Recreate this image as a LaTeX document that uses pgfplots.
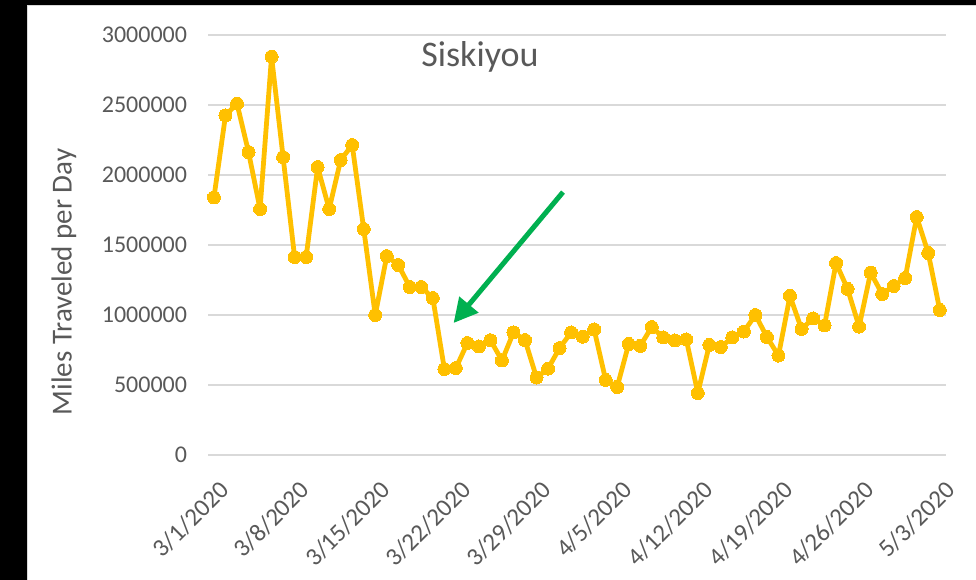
\documentclass[border=0pt]{standalone}
\usepackage{fontspec}
\setmainfont{Carlito}
\usepackage{pgfplots}
\pgfplotsset{compat=1.18}
\usetikzlibrary{arrows.meta}

\definecolor{gold}{RGB}{255,192,0}
\definecolor{txtgray}{RGB}{89,89,89}
\definecolor{gridgray}{RGB}{217,217,217}
\definecolor{arrowgreen}{RGB}{0,176,80}

\pgfplotstableread{
day miles
0 1840000
1 2425000
2 2510000
3 2164000
4 1757000
5 2845000
6 2128000
7 1414000
8 1414000
9 2057000
10 1757000
11 2107000
12 2214000
13 1614000
14 1000000
15 1421000
16 1357000
17 1200000
18 1200000
19 1121000
20 614000
21 621000
22 800000
23 775000
24 820000
25 675000
26 875000
27 821000
28 553000
29 617000
30 764000
31 875000
32 845000
33 897000
34 536000
35 486000
36 793000
37 779000
38 914000
39 840000
40 818000
41 825000
42 443000
43 786000
44 771000
45 840000
46 882000
47 1000000
48 843000
49 710000
50 1136000
51 900000
52 975000
53 925000
54 1371000
55 1186000
56 917000
57 1303000
58 1150000
59 1207000
60 1264000
61 1700000
62 1443000
63 1036000
}\siskiyou

\begin{document}
\begin{tikzpicture}
  \useasboundingbox (0bp,0bp) rectangle (976bp,580bp);
  % frame of the screenshot
  \fill[black] (0bp,0bp) rectangle (976bp,580bp);
  \fill[white] (27bp,-5bp) rectangle (985bp,575bp);
  \draw[gridgray, line width=1.5bp] (27.5bp,-5bp) -- (27.5bp,574.5bp) -- (985bp,574.5bp);

  \begin{axis}[
      at={(208.2bp,125bp)}, anchor=south west,
      width=737.3bp, height=420bp,
      scale only axis,
      xmin=-0.5, xmax=63.5,
      ymin=0, ymax=3000000,
      axis line style={draw=none},
      major tick length=0pt,
      ymajorgrids,
      major grid style={gridgray, line width=1.5bp},
      ytick={0,500000,...,3000000},
      scaled y ticks=false,
      /pgf/number format/fixed,
      /pgf/number format/set thousands separator={},
      /pgf/number format/assume math mode=true,
      xtick={0,7,...,63},
      xticklabels={3/1/2020,3/8/2020,3/15/2020,3/22/2020,3/29/2020,4/5/2020,4/12/2020,4/19/2020,4/26/2020,5/3/2020},
      ticklabel style={font=\fontsize{24bp}{28bp}\selectfont, text=txtgray, inner sep=0pt},
      yticklabel style={anchor=east, xshift=-21bp},
      xticklabel style={xshift=4bp, yshift=-24bp, rotate=45, anchor=north east,
        font=\fontsize{25bp}{29bp}\selectfont},
      clip=false,
    ]
    \addplot[gold, line width=4.8bp, line join=round,
      mark=*, mark size=6.5bp, mark options={fill=gold, draw=gold, line width=0pt}]
      table[x=day, y=miles] {\siskiyou};
    \draw[arrowgreen, line width=5bp, -{Triangle[length=24bp,width=24bp]}]
      (axis cs:30.3,1878000) -- (axis cs:20.8,943000);
  \end{axis}

  \node[txtgray, font=\fontsize{36bp}{42bp}\selectfont, anchor=base] at (480bp,513bp) {Siskiyou};
  \node[txtgray, font=\fontsize{29bp}{34bp}\selectfont, rotate=90] at (64bp,298bp) {Miles Traveled per Day};
\end{tikzpicture}
\end{document}
